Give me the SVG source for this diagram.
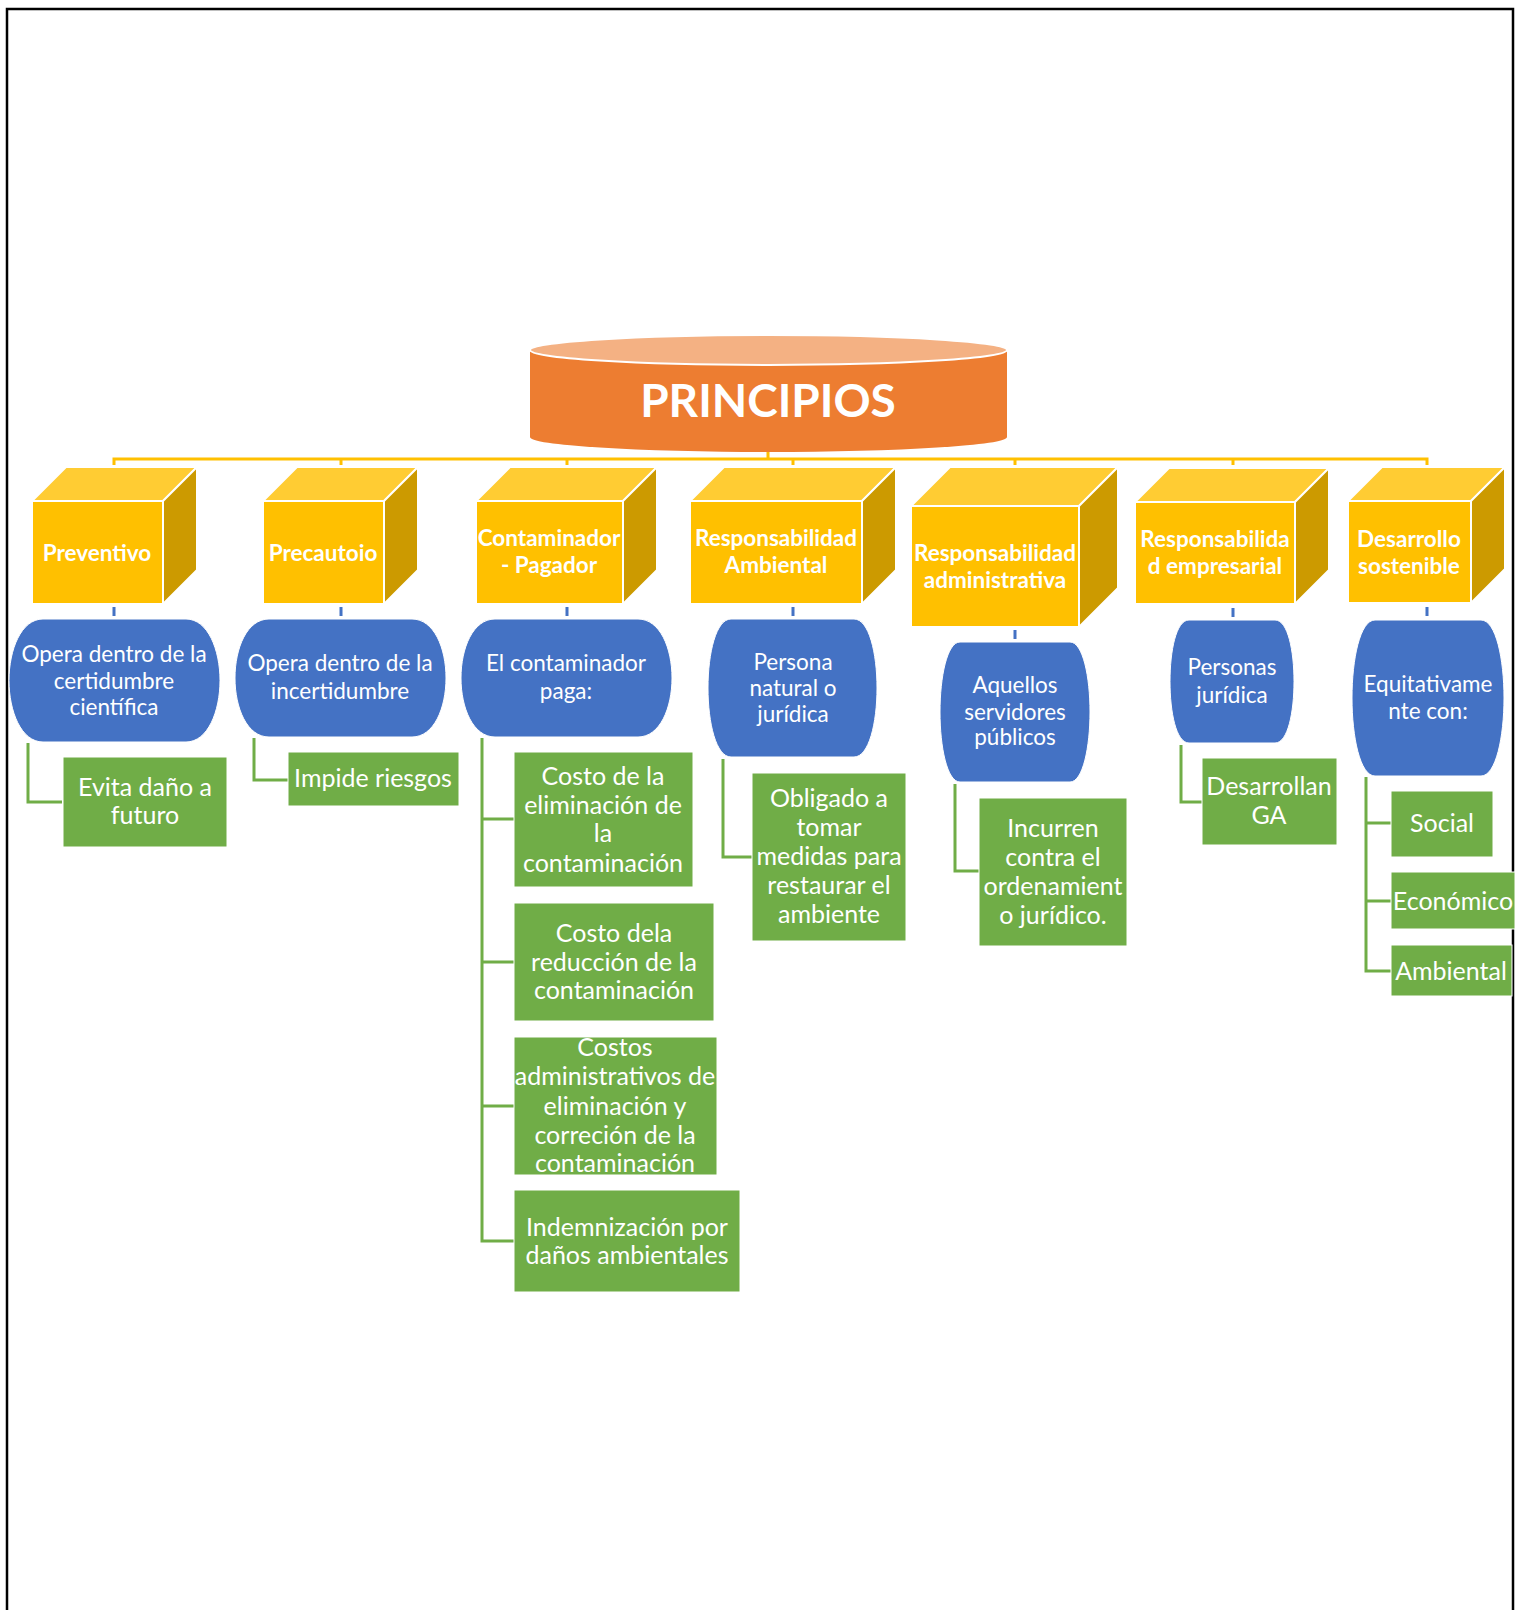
<svg xmlns="http://www.w3.org/2000/svg" width="1520" height="1610" viewBox="0 0 1520 1610">
<style>
.ft{fill:#FFC000;stroke:#fff;stroke-width:2}
.tp{fill:#FFCC33;stroke:#fff;stroke-width:2;stroke-linejoin:round}
.sd{fill:#CC9A00;stroke:#fff;stroke-width:2;stroke-linejoin:round}
.bl{fill:#4472C4;stroke:#fff;stroke-width:1}
.gr{fill:#70AD47;stroke:#fff;stroke-width:1}
text{font-family:Lato,"Open Sans","Liberation Sans",sans-serif;fill:#fff;text-anchor:middle}
.yl{font-weight:bold;font-size:22.5px}
.bt{font-size:22.5px}
.gt{font-size:25px}
.ycon{fill:none;stroke:#FFC000;stroke-width:3}
.bcon{fill:none;stroke:#4472C4;stroke-width:3}
.gcon{fill:none;stroke:#70AD47;stroke-width:3}
</style>
<rect x="0" y="0" width="1520" height="1610" fill="#fff"/>
<rect x="7" y="9" width="1506" height="1620" fill="none" stroke="#000" stroke-width="2.5"/>

<g id="connectors">
  <path class="ycon" d="M114,465 V459 H1427 V465 M768,452 V459 M341,459 V465 M567,459 V465 M793,459 V465 M1015,459 V465 M1233,459 V465"/>
  <path class="bcon" d="M114,607 V616 M341,607 V616 M567,607 V616 M793,607 V616 M1015,630 V639 M1233,608 V617 M1427,607 V616"/>
  <path class="gcon" d="M28,743 V802 H62"/>
  <path class="gcon" d="M254,738 V780 H288"/>
  <path class="gcon" d="M482,738 V1241 H514 M482,819 H514 M482,962 H514 M482,1106 H514"/>
  <path class="gcon" d="M723,759 V857 H752"/>
  <path class="gcon" d="M955,784 V871 H979"/>
  <path class="gcon" d="M1181,745 V802 H1202"/>
  <path class="gcon" d="M1366,777 V971 H1391 M1366,823 H1391 M1366,901 H1391"/>
</g>

<g id="principios">
  <path d="M530,350 V437 A238.5,15 0 0 0 1007,437 V350 Z" fill="#ED7D31"/>
  <ellipse cx="768.5" cy="350" rx="238.5" ry="15" fill="#F4B183" stroke="#fff" stroke-width="2"/>
  <text x="768" y="417" style="font-weight:bold;font-size:46px">PRINCIPIOS</text>
</g>

<g id="preventivo">
  <polygon class="tp" points="32,501 66,467 197,467 163,501"/>
  <polygon class="sd" points="163,501 197,467 197,570 163,604"/>
  <rect class="ft" x="32" y="501" width="131" height="103"/>
  <text class="yl" x="97" y="561">Preventivo</text>
</g>
<g id="precautoio">
  <polygon class="tp" points="263,501 297,467 418,467 384,501"/>
  <polygon class="sd" points="384,501 418,467 418,570 384,604"/>
  <rect class="ft" x="263" y="501" width="121" height="103"/>
  <text class="yl" x="323" y="561">Precautoio</text>
</g>
<g id="contaminador">
  <polygon class="tp" points="476,501 510,467 657,467 623,501"/>
  <polygon class="sd" points="623,501 657,467 657,570 623,604"/>
  <rect class="ft" x="476" y="501" width="147" height="103"/>
  <text class="yl" x="549" y="546">Contaminador</text>
  <text class="yl" x="549" y="573">- Pagador</text>
</g>
<g id="resp-ambiental">
  <polygon class="tp" points="690,501 724,467 896,467 862,501"/>
  <polygon class="sd" points="862,501 896,467 896,570 862,604"/>
  <rect class="ft" x="690" y="501" width="172" height="103"/>
  <text class="yl" x="776" y="546">Responsabilidad</text>
  <text class="yl" x="776" y="573">Ambiental</text>
</g>
<g id="resp-administrativa">
  <polygon class="tp" points="911,506 950,467 1118,467 1079,506"/>
  <polygon class="sd" points="1079,506 1118,467 1118,588 1079,627"/>
  <rect class="ft" x="911" y="506" width="168" height="121"/>
  <text class="yl" x="995" y="561">Responsabilidad</text>
  <text class="yl" x="995" y="588">administrativa</text>
</g>
<g id="resp-empresarial">
  <polygon class="tp" points="1135,502 1169,468 1329,468 1295,502"/>
  <polygon class="sd" points="1295,502 1329,468 1329,570 1295,604"/>
  <rect class="ft" x="1135" y="502" width="160" height="102"/>
  <text class="yl" x="1215" y="547">Responsabilida</text>
  <text class="yl" x="1215" y="574">d empresarial</text>
</g>
<g id="desarrollo">
  <polygon class="tp" points="1348,501 1382,467 1505,467 1471,501"/>
  <polygon class="sd" points="1471,501 1505,467 1505,569 1471,603"/>
  <rect class="ft" x="1348" y="501" width="123" height="102"/>
  <text class="yl" x="1409" y="547">Desarrollo</text>
  <text class="yl" x="1409" y="574">sostenible</text>
</g>

<g id="b-preventivo">
  <path class="bl" d="M43,619 H186 C208,619 220,650 220,680.5 C220,711 208,742 186,742 H43 C21,742 9,711 9,680.5 C9,650 21,619 43,619 Z"/>
  <text class="bt" x="114" y="662">Opera dentro de la</text>
  <text class="bt" x="114" y="689">certidumbre</text>
  <text class="bt" x="114" y="715">científica</text>
</g>
<g id="b-precautoio">
  <path class="bl" d="M269,619 H412 C434,619 446,648 446,678 C446,708 434,737 412,737 H269 C247,737 235,708 235,678 C235,648 247,619 269,619 Z"/>
  <text class="bt" x="340" y="671">Opera dentro de la</text>
  <text class="bt" x="340" y="699">incertidumbre</text>
</g>
<g id="b-contaminador">
  <path class="bl" d="M495,619 H638 C660,619 672,648 672,678 C672,708 660,737 638,737 H495 C473,737 461,708 461,678 C461,648 473,619 495,619 Z"/>
  <text class="bt" x="566" y="671">El contaminador</text>
  <text class="bt" x="566" y="699">paga:</text>
</g>
<g id="b-ambiental">
  <path class="bl" d="M731,619 H854 C869,619 877,653 877,688 C877,723 869,757 854,757 H731 C716,757 708,723 708,688 C708,653 716,619 731,619 Z"/>
  <text class="bt" x="793" y="670">Persona</text>
  <text class="bt" x="793" y="696">natural o</text>
  <text class="bt" x="793" y="722">jurídica</text>
</g>
<g id="b-administrativa">
  <path class="bl" d="M960,642 H1070 C1083,642 1090,677 1090,712 C1090,747 1083,782 1070,782 H960 C947,782 940,747 940,712 C940,677 947,642 960,642 Z"/>
  <text class="bt" x="1015" y="693">Aquellos</text>
  <text class="bt" x="1015" y="720">servidores</text>
  <text class="bt" x="1015" y="745">públicos</text>
</g>
<g id="b-empresarial">
  <path class="bl" d="M1189,620 H1275 C1288,620 1294,651 1294,681.5 C1294,712 1288,743 1275,743 H1189 C1176,743 1170,712 1170,681.5 C1170,651 1176,620 1189,620 Z"/>
  <text class="bt" x="1232" y="675">Personas</text>
  <text class="bt" x="1232" y="703">jurídica</text>
</g>
<g id="b-desarrollo">
  <path class="bl" d="M1375,620 H1481 C1496,620 1504,659 1504,698 C1504,737 1496,776 1481,776 H1375 C1360,776 1352,737 1352,698 C1352,659 1360,620 1375,620 Z"/>
  <text class="bt" x="1428" y="692">Equitativame</text>
  <text class="bt" x="1428" y="719">nte con:</text>
</g>

<g id="g-evita">
  <rect class="gr" x="63" y="757" width="164" height="90"/>
  <text class="gt" x="145" y="796">Evita daño a</text>
  <text class="gt" x="145" y="824">futuro</text>
</g>
<g id="g-impide">
  <rect class="gr" x="288" y="752" width="171" height="54"/>
  <text class="gt" x="373" y="787">Impide riesgos</text>
</g>
<g id="g-costo1">
  <rect class="gr" x="514" y="752" width="179" height="135"/>
  <text class="gt" x="603" y="785">Costo de la</text>
  <text class="gt" x="603" y="814">eliminación de</text>
  <text class="gt" x="603" y="842">la</text>
  <text class="gt" x="603" y="872">contaminación</text>
</g>
<g id="g-costo2">
  <rect class="gr" x="514" y="903" width="200" height="118"/>
  <text class="gt" x="614" y="942">Costo dela</text>
  <text class="gt" x="614" y="971">reducción de la</text>
  <text class="gt" x="614" y="999">contaminación</text>
</g>
<g id="g-costo3">
  <rect class="gr" x="514" y="1037" width="203" height="138"/>
  <text class="gt" x="615" y="1056">Costos</text>
  <text class="gt" x="615" y="1085">administrativos de</text>
  <text class="gt" x="615" y="1115">eliminación y</text>
  <text class="gt" x="615" y="1144">correción de la</text>
  <text class="gt" x="615" y="1172">contaminación</text>
</g>
<g id="g-indemnizacion">
  <rect class="gr" x="514" y="1190" width="226" height="102"/>
  <text class="gt" x="627" y="1236">Indemnización por</text>
  <text class="gt" x="627" y="1264">daños ambientales</text>
</g>
<g id="g-obligado">
  <rect class="gr" x="752" y="773" width="154" height="168"/>
  <text class="gt" x="829" y="807">Obligado a</text>
  <text class="gt" x="829" y="836">tomar</text>
  <text class="gt" x="829" y="865">medidas para</text>
  <text class="gt" x="829" y="894">restaurar el</text>
  <text class="gt" x="829" y="923">ambiente</text>
</g>
<g id="g-incurren">
  <rect class="gr" x="979" y="798" width="148" height="148"/>
  <text class="gt" x="1053" y="837">Incurren</text>
  <text class="gt" x="1053" y="866">contra el</text>
  <text class="gt" x="1053" y="895">ordenamient</text>
  <text class="gt" x="1053" y="924">o jurídico.</text>
</g>
<g id="g-desarrollan">
  <rect class="gr" x="1202" y="758" width="135" height="87"/>
  <text class="gt" x="1269" y="795">Desarrollan</text>
  <text class="gt" x="1269" y="824">GA</text>
</g>
<g id="g-social">
  <rect class="gr" x="1391" y="791" width="102" height="66"/>
  <text class="gt" x="1442" y="832">Social</text>
</g>
<g id="g-economico">
  <rect class="gr" x="1391" y="872" width="124" height="57"/>
  <text class="gt" x="1453" y="910">Económico</text>
</g>
<g id="g-ambiental">
  <rect class="gr" x="1391" y="945" width="121" height="51"/>
  <text class="gt" x="1451" y="980">Ambiental</text>
</g>
</svg>
